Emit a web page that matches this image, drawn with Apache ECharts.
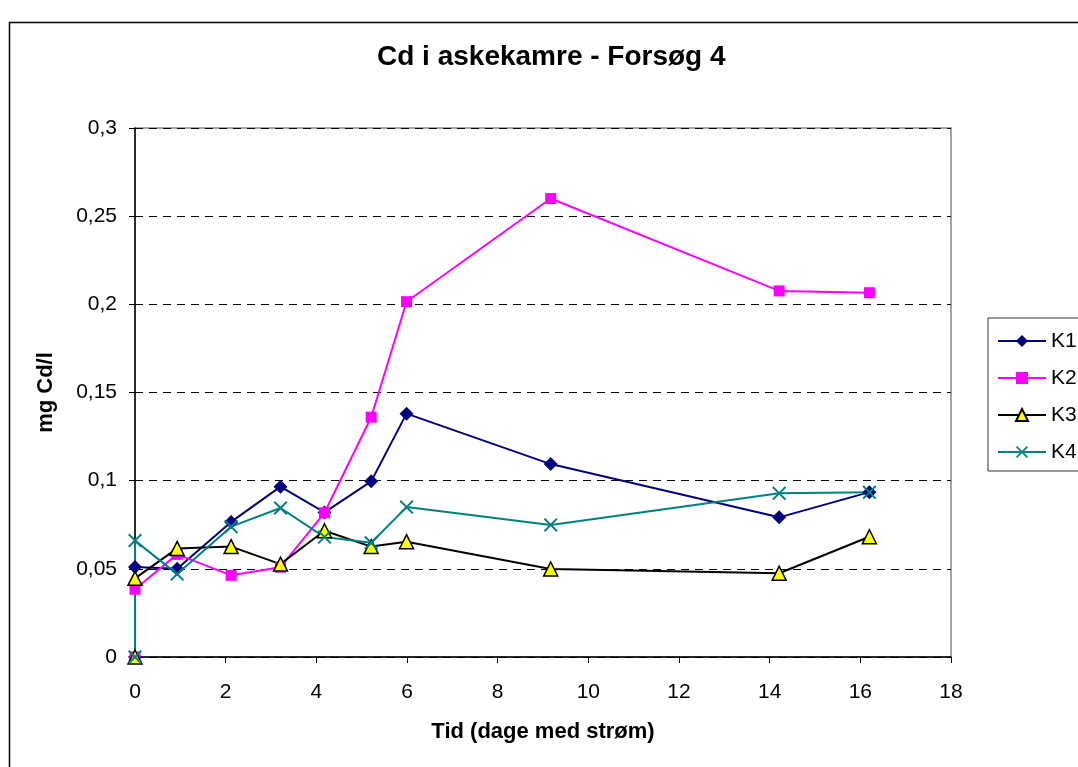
<!DOCTYPE html>
<html>
<head>
<meta charset="utf-8">
<script src="https://cdn.jsdelivr.net/npm/echarts@6/dist/echarts.min.js"></script>
<style>
html,body{margin:0;padding:0;background:#fff;}
#c{width:1078px;height:767px;}
</style>
</head>
<body>
<div id="c"></div>
<script>
const titleText = 'Cd i askekamre - Forsøg 4';
const xName = 'Tid (dage med strøm)';
const yName = 'mg Cd/l';
const seriesNames = ['K1', 'K2', 'K3', 'K4'];
const days = [0, 0, 0.93, 2.12, 3.21, 4.18, 5.21, 5.99, 9.17, 14.21, 16.2];
const k1 = [0, 0.051, 0.050, 0.0766, 0.0966, 0.082, 0.0996, 0.138, 0.1094, 0.0792, 0.0935];
const k2 = [0, 0.0384, 0.0582, 0.0463, 0.0509, 0.0818, 0.136, 0.2015, 0.260, 0.2076, 0.2066];
const k3 = [0, 0.0446, 0.0616, 0.0626, 0.0527, 0.0716, 0.0626, 0.0654, 0.0499, 0.0475, 0.0682];
const k4 = [0, 0.066, 0.047, 0.0739, 0.0845, 0.068, 0.0648, 0.085, 0.0749, 0.0928, 0.0934];

const pair = arr => days.map((d, i) => [d, arr[i]]);
const fmt = v => String(+(+v).toFixed(3)).replace('.', ',');
const xMark = 'path://M0,1 L1,0 L5,4 L9,0 L10,1 L6,5 L10,9 L9,10 L5,6 L1,10 L0,9 L4,5 Z';
const FONT = 'Liberation Sans, Arial, sans-serif';

const chart = echarts.init(document.getElementById('c'), null, {renderer: 'canvas'});
chart.setOption({
  backgroundColor: '#fff',
  animation: false,
  graphic: [{
    type: 'rect', left: 7, top: 20, shape: {width: 1200, height: 900},
    style: {fill: 'none', stroke: '#000', lineWidth: 1.5}, z: -1
  }],
  title: {
    text: titleText, left: 372, top: 38,
    textStyle: {fontFamily: FONT, fontSize: 28, fontWeight: 'bold', color: '#000'}
  },
  legend: {
    orient: 'vertical', left: 988, top: 318,
    padding: [12, 10, 8, 9],
    itemWidth: 48, itemHeight: 15, itemGap: 15,
    borderColor: '#333', borderWidth: 1,
    textStyle: {fontFamily: FONT, fontSize: 21, color: '#000', lineHeight: 22},
    data: seriesNames
  },
  grid: {left: 135, right: 127, top: 128, bottom: 110, show: true, borderColor: '#888', borderWidth: 1.5, containLabel: false},
  xAxis: {
    type: 'value', min: 0, max: 18, interval: 2,
    name: xName, nameLocation: 'middle', nameGap: 64,
    nameTextStyle: {fontFamily: FONT, fontSize: 22, fontWeight: 'bold', color: '#000'},
    axisLine: {onZero: false, lineStyle: {color: '#000', width: 1.5}},
    axisTick: {length: 6, lineStyle: {color: '#000'}},
    axisLabel: {fontFamily: FONT, fontSize: 21, color: '#000', margin: 25, formatter: fmt},
    splitLine: {show: false}
  },
  yAxis: {
    type: 'value', min: 0, max: 0.3, interval: 0.05,
    name: yName, nameLocation: 'middle', nameGap: 78, nameRotate: 90,
    nameTextStyle: {fontFamily: FONT, fontSize: 22, fontWeight: 'bold', color: '#000'},
    axisLine: {show: true, lineStyle: {color: '#000', width: 1.5}},
    axisTick: {show: true, length: 6, lineStyle: {color: '#000'}},
    axisLabel: {fontFamily: FONT, fontSize: 21, color: '#000', margin: 18, formatter: fmt},
    splitLine: {show: true, lineStyle: {color: '#000', type: [8, 6], width: 1}}
  },
  series: [
    {name: 'K1', type: 'line', data: pair(k1), symbol: 'diamond', symbolSize: 14,
     lineStyle: {color: '#000080', width: 2}, itemStyle: {color: '#000080'}},
    {name: 'K2', type: 'line', data: pair(k2), symbol: 'rect', symbolSize: 11,
     lineStyle: {color: '#FF00FF', width: 2}, itemStyle: {color: '#FF00FF'}},
    {name: 'K3', type: 'line', data: pair(k3), symbol: 'triangle', symbolSize: 14,
     lineStyle: {color: '#000', width: 2}, itemStyle: {color: '#FFFF00', borderColor: '#000', borderWidth: 1.5}},
    {name: 'K4', type: 'line', data: pair(k4), symbol: xMark, symbolSize: 14,
     lineStyle: {color: '#008080', width: 2}, itemStyle: {color: '#008080'}}
  ]
});
</script>
</body>
</html>
